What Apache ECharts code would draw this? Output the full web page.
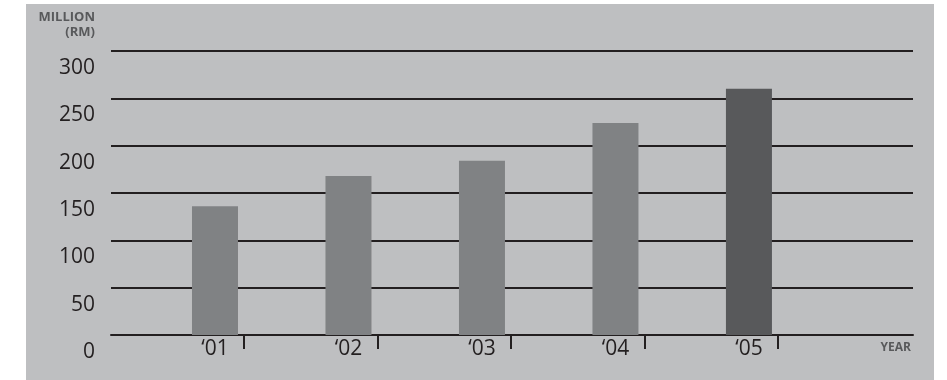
<!DOCTYPE html>
<html>
<head>
<meta charset="utf-8">
<script src="https://cdn.jsdelivr.net/npm/echarts@6/dist/echarts.min.js"></script>
<style>
  html, body { margin: 0; padding: 0; background: #ffffff; }
  #chart { width: 947px; height: 380px; }
</style>
</head>
<body>
<div id="chart"></div>
<script>
// Yearly figures, RM million
const years = ["\u201801", "\u201802", "\u201803", "\u201804", "\u201805"];
const values = [136, 168, 184, 224, 260];
const yTicks = [0, 50, 100, 150, 200, 250, 300];

const FONT = '"Open Sans", "Noto Sans", sans-serif';
const INK = '#231f20';
const BAR = '#808284';
const BAR_LATEST = '#58595b';

// Each year sits at x = index + 1; ticks sit just right of each bar.
const positions = years.map((_, i) => i + 1);
const tickOffset = 0.217;

const chart = echarts.init(document.getElementById('chart'), null, { renderer: 'canvas' });

chart.setOption({
  animation: false,
  backgroundColor: '#ffffff',
  graphic: [
    {
      type: 'rect', z: -10, silent: true,
      shape: { x: 26, y: 4, width: 908, height: 376 },
      style: { fill: '#bebfc1' }
    },
    {
      type: 'text', x: 95, y: 17,
      style: {
        text: 'MILLION', fill: '#58595b', font: 'bold 13px ' + FONT,
        align: 'right', verticalAlign: 'middle'
      }
    },
    {
      type: 'text', x: 95, y: 32,
      style: {
        text: '(RM)', fill: '#58595b', font: 'bold 13px ' + FONT,
        align: 'right', verticalAlign: 'middle'
      }
    },
    {
      type: 'text', x: 911, y: 348,
      style: {
        text: 'YEAR', fill: '#58595b', font: 'bold 12px ' + FONT,
        align: 'right', verticalAlign: 'middle'
      }
    }
  ],
  grid: { left: 111, right: 34, top: 51, bottom: 45, containLabel: false },
  xAxis: {
    type: 'value',
    min: 0.221,
    max: 6.229,
    splitLine: { show: false },
    axisLine: { show: true, onZero: false, lineStyle: { color: INK, width: 2 } },
    axisTick: {
      show: true,
      length: 14,
      lineStyle: { color: INK, width: 2 },
      customValues: positions.map(p => p + tickOffset)
    },
    axisLabel: {
      show: true,
      customValues: positions,
      margin: 4,
      color: INK,
      fontFamily: FONT,
      fontSize: 21,
      formatter: v => years[Math.round(v) - 1] || ''
    }
  },
  yAxis: {
    type: 'value',
    min: 0,
    max: 300,
    interval: 50,
    axisLine: { show: false },
    axisTick: { show: false },
    splitLine: { show: true, lineStyle: { color: INK, width: 2 } },
    axisLabel: {
      margin: 16,
      color: INK,
      fontFamily: FONT,
      fontSize: 21,
      verticalAlign: 'top',
      lineHeight: 34,
      formatter: v => (yTicks.indexOf(v) >= 0 ? String(v) : '')
    }
  },
  series: [{
    type: 'bar',
    barWidth: 46,
    z: 3,
    data: values.map((v, i) => ({
      value: [positions[i], v],
      itemStyle: { color: i === values.length - 1 ? BAR_LATEST : BAR }
    }))
  }]
});
</script>
</body>
</html>
